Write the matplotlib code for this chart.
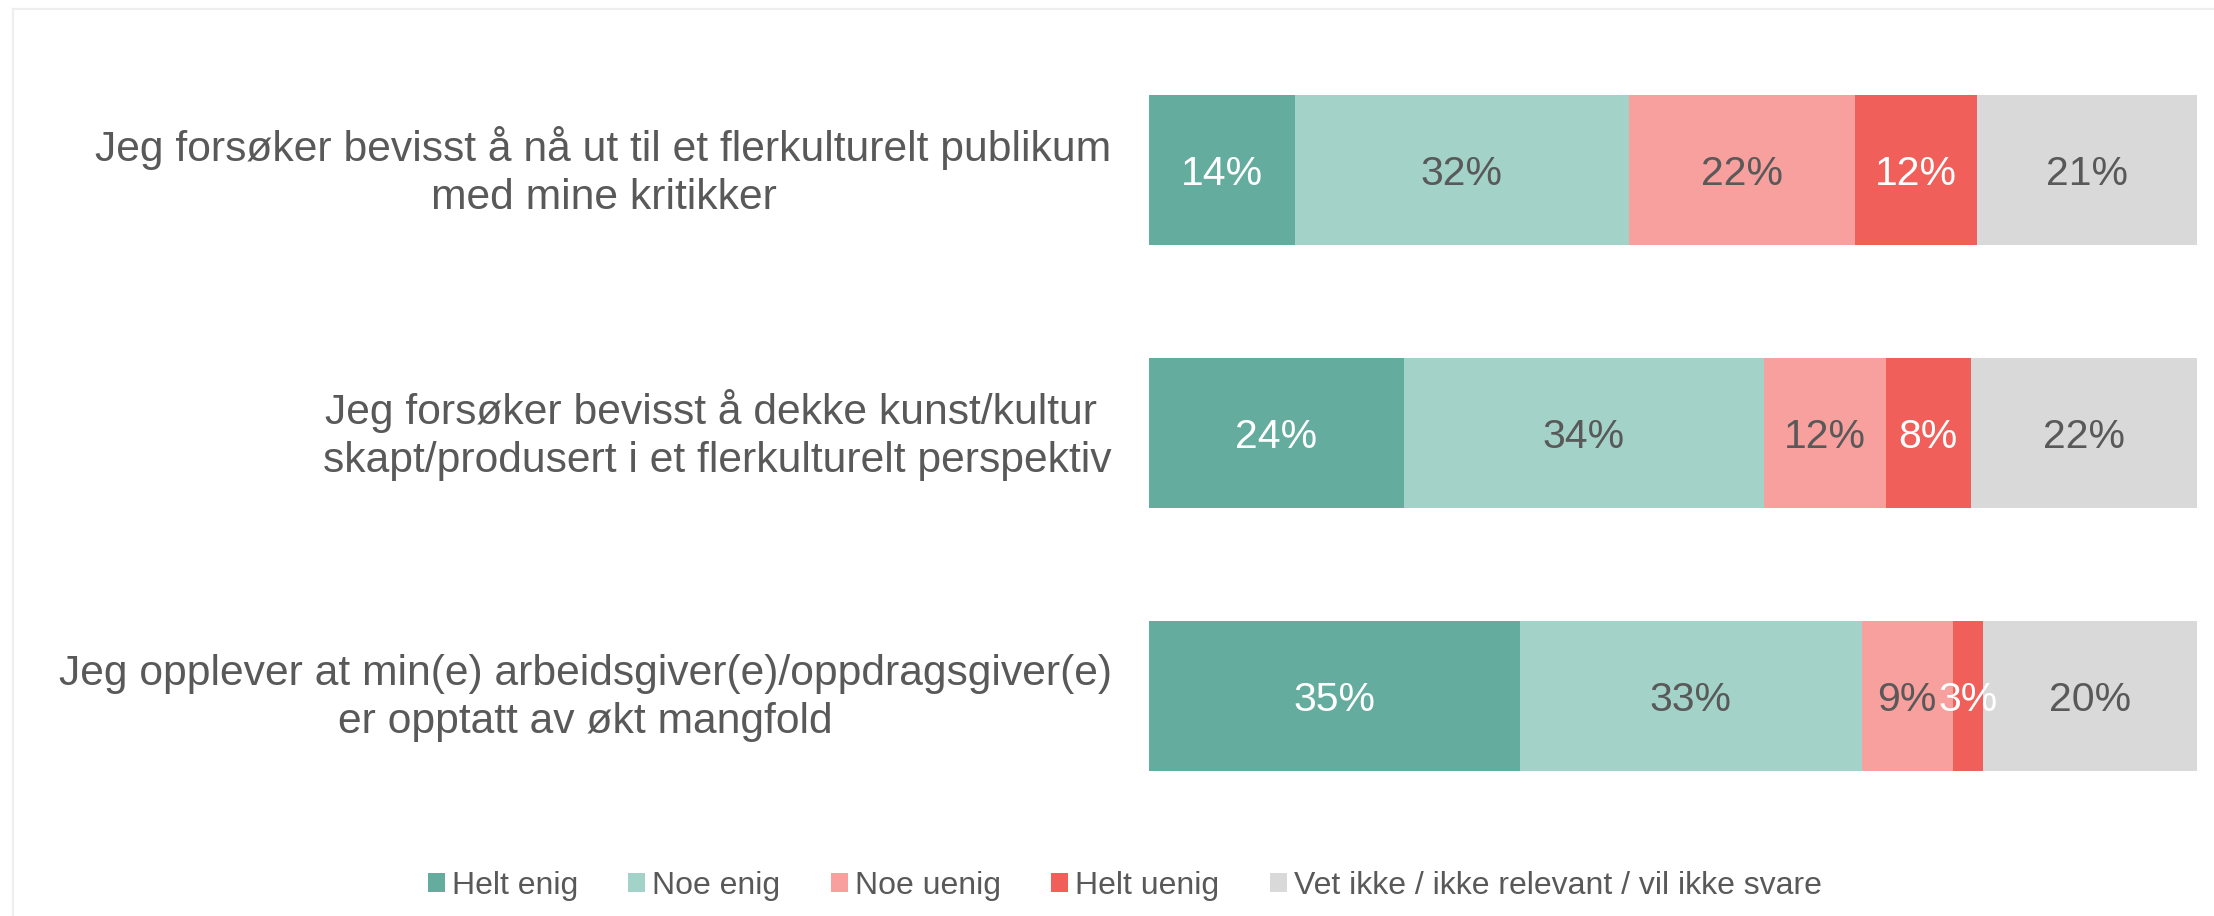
import matplotlib.pyplot as plt
import numpy as np
from matplotlib.lines import Line2D

plt.rcParams['font.family'] = ['Liberation Sans', 'DejaVu Sans']

# Spørsmål (øverst først) og svarandeler i prosent
spørsmål = [
    "Jeg forsøker bevisst å nå ut til et flerkulturelt publikum\nmed mine kritikker",
    "Jeg forsøker bevisst å dekke kunst/kultur \nskapt/produsert i et flerkulturelt perspektiv",
    "Jeg opplever at min(e) arbeidsgiver(e)/oppdragsgiver(e)\ner opptatt av økt mangfold",
]
svar = ["Helt enig", "Noe enig", "Noe uenig", "Helt uenig",
        "Vet ikke / ikke relevant / vil ikke svare"]
helt_enig = [13.9, 24.3, 35.4]
noe_enig = [31.9, 34.4, 32.6]
noe_uenig = [21.6, 11.6, 8.7]
helt_uenig = [11.6, 8.1, 2.9]
vet_ikke = [21.0, 21.6, 20.4]

farger = ["#64ac9e", "#a3d3c8", "#f7a09d", "#f05f5a", "#d9d9d9"]
tekstfarger = ["white", "#595959", "#595959", "white", "#595959"]
grå = "#595959"

serier = [helt_enig, noe_enig, noe_uenig, helt_uenig, vet_ikke]

fig = plt.figure(figsize=(22.14, 9.16), dpi=100)
ax = fig.add_axes([0.519, 0.0966, 0.9923 - 0.519, 0.8614])

fs_verdi = 29.5
y = np.arange(len(spørsmål))
venstre = np.zeros(len(spørsmål))
for verdier, navn, farge, tfarge in zip(serier, svar, farger, tekstfarger):
    verdier = np.array(verdier)
    ax.barh(y, verdier, left=venstre, height=0.567, color=farge, label=navn)
    for yi, v, l in zip(y, verdier, venstre):
        # sifrene sentreres midt i stolpen
        ax.annotate(f"{v:.0f}%", xy=(l + v / 2, yi),
                    xytext=(0, -0.358 * fs_verdi), textcoords='offset points',
                    ha='center', va='baseline', color=tfarge, fontsize=fs_verdi)
    venstre += verdier

# spørsmålstekst til venstre for stolpene
for yi, tekst in zip(y, spørsmål):
    ax.annotate(tekst, xy=(0, yi), xytext=(-27, -1.5), textcoords='offset points',
                ha='right', va='center', multialignment='center',
                linespacing=1.24, fontsize=30.7, color=grå,
                annotation_clip=False)

ax.set_xlim(0, 100)
ax.set_ylim(2.5, -0.5)
ax.set_xticks([])
ax.set_yticks([])
for s in ax.spines.values():
    s.set_visible(False)

leg = fig.legend(loc='center', bbox_to_anchor=(0.508, 0.033), ncol=5,
                 frameon=False, fontsize=23.0, handlelength=0.53,
                 handleheight=0.53, handletextpad=0.22, columnspacing=1.58)
for t in leg.get_texts():
    t.set_color(grå)

# tynn ramme rundt diagramområdet
x0 = 13 / 2214
y0 = 1 - 9 / 916
fig.add_artist(Line2D([x0, 1], [y0, y0], color="#eeeeee", lw=1.6,
                      transform=fig.transFigure))
fig.add_artist(Line2D([x0, x0], [0, y0], color="#eeeeee", lw=1.6,
                      transform=fig.transFigure))

fig.savefig("out.png", dpi=100, facecolor="white")
